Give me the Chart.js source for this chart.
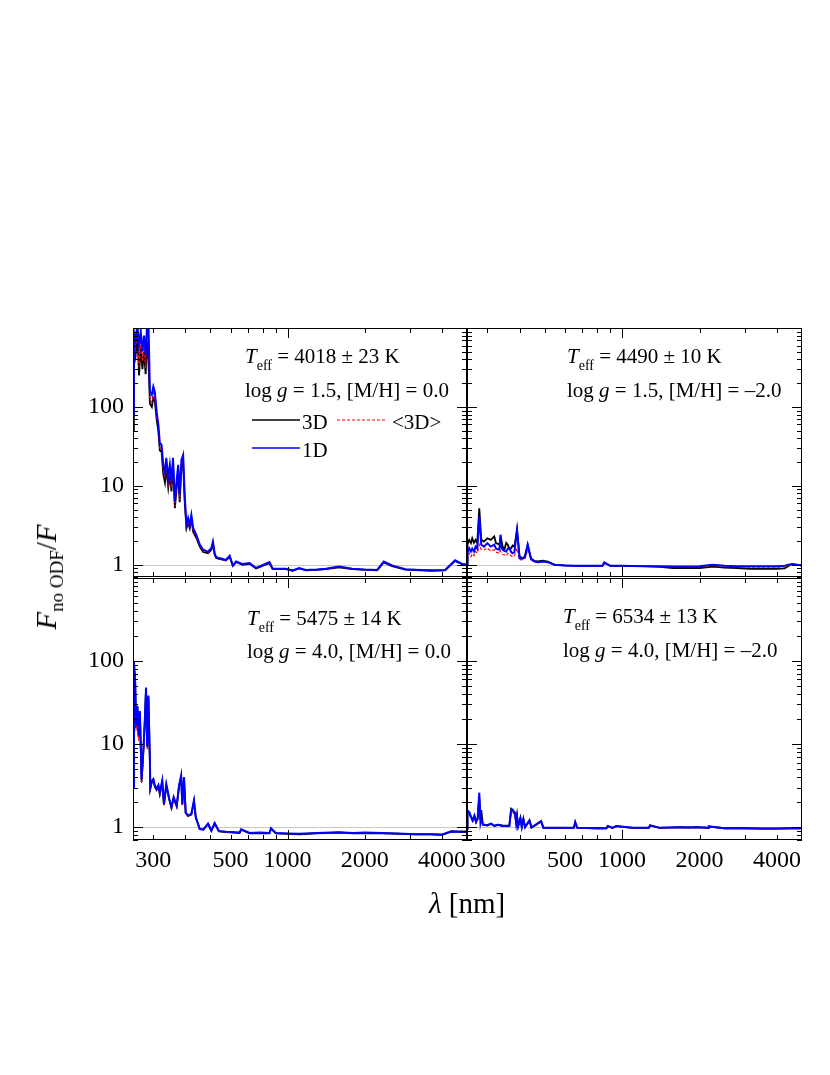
<!DOCTYPE html>
<html>
<head>
<meta charset="utf-8">
<script src="https://cdn.jsdelivr.net/npm/chart.js@4.4.1/dist/chart.umd.min.js"></script>
<style>
  body { margin: 0; background: #fff; }
  #page { position: relative; width: 830px; height: 1075px; overflow: hidden; font-family: 'Liberation Serif', 'DejaVu Serif', serif; }
  canvas { position: absolute; }
  .title { position: absolute; white-space: nowrap; color: #000; line-height: 1; }
  #ytitle { left: 49px; top: 577px; font-size: 29px; transform: translate(-50%, -50%) rotate(-90deg); }
  #ytitle sub { font-size: 19px; font-style: normal; vertical-align: -7px; }
  #xtitle { left: 467px; top: 903px; font-size: 29px; transform: translate(-50%, -50%); }
</style>
</head>
<body>
<div id="page">
  <canvas id="panelTL"></canvas>
  <canvas id="panelTR"></canvas>
  <canvas id="panelBL"></canvas>
  <canvas id="panelBR"></canvas>
  <div class="title" id="ytitle"><i>F</i><sub>no ODF</sub>/<i>F</i></div>
  <div class="title" id="xtitle"><i>λ</i> [nm]</div>
</div>
<script>
// tick labels (the reference prints "500" at the 600 nm tick position)
const xTickAt = [300, 600, 1000, 2000, 4000];
const xTickText = ['300', '500', '1000', '2000', '4000'];
const yTickAt = [1, 10, 100];
const xMajor = [1000];
const xMinor = [300, 400, 500, 600, 700, 800, 900, 2000, 3000, 4000];
const yMajor = [1, 10, 100];
const yMinor = [0.7, 0.8, 0.9, 2, 3, 4, 5, 6, 7, 8, 9, 20, 30, 40, 50, 60, 70, 80, 90,
                200, 300, 400, 500, 600, 700, 800, 900];

// Teff = 4018 K, log g = 1.5, [M/H] = 0.0
const lamA = [250, 252, 256, 260, 264, 268, 272, 276, 280, 284,
  287, 291, 296, 300, 304, 309, 314, 318, 323, 328,
  333, 337, 343, 348, 353, 358, 364, 370, 375, 380,
  386, 392, 398, 404, 410, 416, 422, 429, 441, 455,
  469, 490, 505, 512, 520, 527, 540, 552, 575, 595,
  612, 631, 669, 711, 754, 850, 875, 986, 1046, 1110,
  1178, 1300, 1409, 1586, 1786, 2000, 2233, 2370, 2552, 2877,
  3300, 3648, 4108, 4494, 4800, 5000];
const f3dA = [50, 700, 450, 800, 250, 600, 300, 500, 260, 700,
  400, 110, 100, 130, 120, 70, 48, 28, 27, 14,
  11, 17, 9.5, 14, 8.5, 18, 5.2, 9.5, 14, 6.2,
  17, 19, 5.8, 2.9, 3.4, 2.9, 3.8, 2.6, 2.2, 1.7,
  1.45, 1.4, 1.55, 1.85, 1.35, 1.22, 1.19, 1.17, 1.13, 1.26,
  0.97, 1.08, 1.0, 1.03, 0.9, 1.05, 0.88, 0.88, 0.84, 0.9,
  0.85, 0.86, 0.88, 0.93, 0.88, 0.86, 0.85, 1.07, 0.96, 0.87,
  0.85, 0.84, 0.85, 1.12, 1.01, 1.0];
const fAvgA = [40, 800, 550, 950, 320, 700, 380, 600, 310, 850,
  600, 125, 115, 150, 135, 76, 52, 30, 29, 15.5,
  12.5, 19, 10.5, 15.5, 9.5, 19.5, 5.5, 10.5, 15.5, 6.6,
  18, 20.5, 6.2, 3.0, 3.6, 3.0, 4.0, 2.7, 2.3, 1.75,
  1.5, 1.43, 1.6, 1.9, 1.37, 1.23, 1.2, 1.18, 1.14, 1.28,
  0.97, 1.09, 1.01, 1.04, 0.9, 1.06, 0.88, 0.88, 0.84, 0.9,
  0.85, 0.86, 0.88, 0.94, 0.88, 0.86, 0.85, 1.08, 0.97, 0.87,
  0.85, 0.84, 0.85, 1.13, 1.01, 1.0];
const f1dA = [80, 900, 700, 1100, 600, 900, 500, 800, 450, 1200,
  1300, 155, 142, 181, 156, 87, 59, 35, 33, 18.5,
  14.6, 22.6, 12.6, 18.5, 11.3, 22.6, 6.3, 12, 18.5, 7.7,
  21.3, 24.7, 7.0, 3.2, 3.9, 3.2, 4.3, 2.9, 2.4, 1.8,
  1.55, 1.47, 1.64, 1.96, 1.4, 1.25, 1.22, 1.2, 1.15, 1.3,
  0.98, 1.1, 1.02, 1.05, 0.91, 1.08, 0.89, 0.89, 0.85, 0.91,
  0.86, 0.87, 0.89, 0.95, 0.89, 0.87, 0.86, 1.1, 0.98, 0.88,
  0.86, 0.85, 0.86, 1.14, 1.02, 1.0];

// Teff = 4490 K, log g = 1.5, [M/H] = -2.0
const lamB = [250, 251, 255, 259, 262, 266, 270, 274, 279, 284,
  291, 300, 309, 319, 324, 334, 337, 339, 344, 349,
  355, 360, 365, 371, 376, 382, 391, 400, 412, 420,
  430, 443, 457, 471, 492, 515, 547, 600, 654, 750,
  840, 853, 900, 1000, 1200, 1400, 1575, 1800, 2000, 2254,
  2500, 2800, 3130, 3600, 4000, 4280, 4560, 5000];
const f3dB = [1.0, 1.8, 2.07, 1.88, 2.17, 1.9, 2.07, 1.88, 5.2, 2.07,
  1.97, 2.17, 2.07, 2.28, 1.88, 1.8, 2.0, 2.17, 1.7, 1.55,
  1.9, 1.8, 1.6, 1.62, 1.75, 1.7, 2.77, 1.27, 1.21, 1.3,
  1.8, 1.21, 1.12, 1.1, 1.13, 1.1, 1.0, 0.98, 0.97, 0.97,
  0.97, 1.06, 0.97, 0.96, 0.96, 0.94, 0.91, 0.91, 0.91, 0.95,
  0.92, 0.91, 0.89, 0.89, 0.89, 0.9, 1.02, 0.98];
const fAvgB = [1.0, 1.21, 1.4, 1.27, 1.38, 1.3, 1.47, 1.4, 1.8, 1.55,
  1.55, 1.62, 1.5, 1.55, 1.45, 1.4, 1.5, 1.45, 1.35, 1.34,
  1.3, 1.4, 1.38, 1.3, 1.27, 1.3, 1.62, 1.16, 1.15, 1.2,
  1.55, 1.16, 1.09, 1.07, 1.09, 1.07, 1.0, 0.98, 0.97, 0.97,
  0.97, 1.05, 0.97, 0.96, 0.96, 0.95, 0.94, 0.94, 0.94, 0.98,
  0.95, 0.94, 0.93, 0.93, 0.93, 0.94, 1.01, 0.98];
const f1dB = [1.0, 1.4, 1.62, 1.47, 1.6, 1.47, 1.7, 1.6, 4.1, 1.8,
  1.7, 1.88, 1.7, 1.8, 1.6, 1.55, 2.4, 1.7, 1.55, 1.5,
  1.47, 1.6, 1.62, 1.45, 1.4, 1.45, 2.77, 1.21, 1.2, 1.25,
  1.8, 1.18, 1.1, 1.08, 1.1, 1.08, 1.0, 0.98, 0.97, 0.97,
  0.97, 1.07, 0.97, 0.97, 0.96, 0.96, 0.95, 0.95, 0.96, 1.0,
  0.97, 0.96, 0.96, 0.96, 0.96, 0.97, 1.02, 0.98];

// Teff = 5475 K, log g = 4.0, [M/H] = 0.0
const lamC = [250, 252, 255, 257, 260, 263, 266, 270, 275, 278,
  281, 284, 287, 291, 292, 296, 300, 304, 309, 314,
  318, 325, 330, 337, 346, 353, 360, 370, 378, 385,
  389, 395, 401, 410, 422, 432, 439, 455, 470, 490,
  505, 520, 540, 577, 620, 650, 660, 711, 780, 850,
  862, 900, 1000, 1110, 1300, 1586, 1800, 2000, 2335, 2700,
  3142, 3600, 3986, 4350, 4700, 5000];
const f3dC = [3, 98, 52, 15.5, 28, 12, 24, 3.5, 9.2, 19,
  46, 9.1, 37, 5.8, 2.9, 3.5, 3.7, 3.1, 2.8, 3.1,
  2.5, 3.5, 1.85, 3.2, 2.15, 1.7, 2.25, 1.78, 3.1, 4.0,
  1.85, 3.85, 1.48, 1.36, 1.42, 2.05, 1.3, 0.95, 0.93, 1.09,
  0.9, 1.11, 0.89, 0.87, 0.86, 0.85, 0.93, 0.84, 0.85, 0.84,
  0.96, 0.84, 0.83, 0.82, 0.84, 0.86, 0.84, 0.85, 0.84, 0.83,
  0.82, 0.82, 0.81, 0.88, 0.88, 0.88];
const fAvgC = [3, 95, 50, 14.5, 27, 11, 23, 3.3, 8.8, 18.5,
  44, 8.6, 35, 5.6, 2.8, 3.4, 3.6, 3.0, 2.75, 3.0,
  2.45, 3.4, 1.8, 3.1, 2.1, 1.66, 2.2, 1.75, 3.0, 3.9,
  1.8, 3.7, 1.45, 1.34, 1.4, 2.0, 1.28, 0.94, 0.93, 1.08,
  0.9, 1.1, 0.89, 0.87, 0.87, 0.86, 0.93, 0.85, 0.86, 0.85,
  0.95, 0.85, 0.84, 0.83, 0.85, 0.87, 0.85, 0.86, 0.85, 0.84,
  0.83, 0.83, 0.82, 0.9, 0.89, 0.89];
const f1dC = [3, 100, 55, 16.7, 29, 12.7, 25, 3.8, 9.6, 20,
  48, 9.6, 38.5, 6.1, 3.0, 3.6, 3.8, 3.2, 2.9, 3.2,
  2.6, 3.65, 1.9, 3.3, 2.2, 1.74, 2.3, 1.82, 3.2, 4.2,
  1.9, 4.0, 1.5, 1.38, 1.45, 2.1, 1.32, 0.95, 0.94, 1.1,
  0.91, 1.12, 0.9, 0.88, 0.87, 0.86, 0.94, 0.85, 0.86, 0.85,
  0.97, 0.85, 0.84, 0.83, 0.85, 0.87, 0.85, 0.86, 0.85, 0.84,
  0.82, 0.82, 0.81, 0.89, 0.88, 0.88];

// Teff = 6534 K, log g = 4.0, [M/H] = -2.0
const lamD = [250, 251, 255, 259, 263, 267, 271, 275, 279, 282,
  284, 288, 300, 310, 320, 329, 345, 365, 371, 376,
  384, 388, 391, 395, 403, 408, 414, 420, 437, 445,
  485, 495, 560, 650, 658, 670, 800, 870, 880, 920,
  950, 1097, 1270, 1285, 1400, 1700, 1800, 1950, 2160, 2173,
  2500, 3000, 3500, 4000, 4500, 5000];
const f3dD = [0.95, 1.55, 1.5, 1.34, 1.22, 1.36, 1.17, 1.28, 2.3, 1.2,
  1.6, 1.08, 1.06, 1.1, 1.04, 1.07, 1.04, 1.04, 1.66, 1.58,
  1.5, 1.15, 1.4, 1.03, 1.3, 1.01, 1.26, 1.0, 1.21, 0.99,
  1.17, 0.98, 0.98, 0.98, 1.14, 0.98, 0.97, 0.97, 1.03, 0.98,
  1.03, 0.98, 0.98, 1.05, 0.98, 1.0, 0.99, 1.0, 0.98, 1.02,
  0.97, 0.97, 0.96, 0.96, 0.97, 0.97];
const fAvgD = [0.95, 1.5, 1.45, 1.28, 1.17, 1.32, 1.13, 1.23, 2.2, 1.12,
  1.25, 1.06, 1.04, 1.08, 1.02, 1.06, 1.02, 1.02, 1.5, 1.52,
  1.4, 1.08, 1.28, 1.01, 1.22, 0.99, 1.2, 0.99, 1.17, 0.98,
  1.15, 0.97, 0.97, 0.97, 1.12, 0.97, 0.96, 0.96, 1.02, 0.97,
  1.02, 0.97, 0.97, 1.04, 0.97, 0.99, 0.98, 0.99, 0.97, 1.01,
  0.96, 0.96, 0.95, 0.95, 0.96, 0.96];
const f1dD = [0.95, 1.59, 1.52, 1.32, 1.2, 1.38, 1.15, 1.26, 2.6, 1.15,
  1.3, 1.07, 1.05, 1.1, 1.03, 1.07, 1.03, 1.03, 1.59, 1.63,
  1.45, 1.1, 1.32, 1.02, 1.26, 1.0, 1.24, 1.0, 1.2, 0.99,
  1.18, 0.98, 0.98, 0.98, 1.15, 0.98, 0.97, 0.97, 1.03, 0.98,
  1.03, 0.98, 0.98, 1.05, 0.98, 1.0, 0.99, 1.0, 0.98, 1.02,
  0.97, 0.97, 0.96, 0.96, 0.97, 0.97];

const SERIF = "'Liberation Serif', 'DejaVu Serif', serif";
const BLACK = '#000000';
const RED = '#ff0000';
const BLUE = '#0000ff';

function pts(lam, f) {
  return lam.map((l, i) => ({ x: l, y: f[i] }));
}

// draw a line of text made of parts (plain, italic, subscript)
function drawRich(ctx, x, y, parts) {
  ctx.textBaseline = 'alphabetic';
  ctx.textAlign = 'left';
  ctx.fillStyle = '#000';
  parts.forEach(p => {
    if (p.sub) ctx.font = '14px ' + SERIF;
    else if (p.it) ctx.font = 'italic 21px ' + SERIF;
    else ctx.font = '21px ' + SERIF;
    ctx.fillText(p.t, x, p.sub ? y + 7 : y);
    x += ctx.measureText(p.t).width;
  });
}

function makeDecor(cfg) {
  return {
    id: 'panelDecor',
    beforeDatasetsDraw(chart) {
      const { ctx, chartArea: a, scales: { y } } = chart;
      const py = Math.round(y.getPixelForValue(1)) + 0.5;
      ctx.save();
      ctx.strokeStyle = '#c8c8c8';
      ctx.lineWidth = 1;
      ctx.beginPath();
      ctx.moveTo(a.left, py);
      ctx.lineTo(a.right, py);
      ctx.stroke();
      ctx.restore();
    },
    afterDraw(chart) {
      const { ctx, chartArea: a, scales: { x, y } } = chart;
      ctx.save();
      ctx.strokeStyle = '#000';
      ctx.lineWidth = 1;
      ctx.strokeRect(a.left + 0.5, a.top + 0.5, a.right - a.left - 1, a.bottom - a.top - 1);

      // inward ticks on all four sides
      ctx.beginPath();
      xMajor.concat(xMinor).forEach(v => {
        const len = xMajor.includes(v) ? 10 : 5;
        const px = Math.round(x.getPixelForValue(v)) + 0.5;
        ctx.moveTo(px, a.top); ctx.lineTo(px, a.top + len);
        ctx.moveTo(px, a.bottom); ctx.lineTo(px, a.bottom - len);
      });
      yMajor.concat(yMinor).forEach(v => {
        const len = yMajor.includes(v) ? 10 : 5;
        const py = Math.round(y.getPixelForValue(v)) + 0.5;
        ctx.moveTo(a.left, py); ctx.lineTo(a.left + len, py);
        ctx.moveTo(a.right, py); ctx.lineTo(a.right - len, py);
      });
      ctx.stroke();

      cfg.text.forEach(line => drawRich(ctx, a.left + line.dx, a.top + line.dy, line.parts));

      if (cfg.legend) {
        const lx = a.left + 119, ly = a.top + 92;
        ctx.lineWidth = 1.5;
        ctx.strokeStyle = BLACK;
        ctx.beginPath(); ctx.moveTo(lx, ly); ctx.lineTo(lx + 48, ly); ctx.stroke();
        ctx.strokeStyle = BLUE;
        ctx.beginPath(); ctx.moveTo(lx, ly + 28); ctx.lineTo(lx + 48, ly + 28); ctx.stroke();
        ctx.strokeStyle = RED;
        ctx.lineWidth = 1.2;
        ctx.setLineDash([3, 2]);
        ctx.beginPath(); ctx.moveTo(lx + 85, ly); ctx.lineTo(lx + 135, ly); ctx.stroke();
        ctx.setLineDash([]);
        drawRich(ctx, lx + 50, ly + 9, [{ t: '3D' }]);
        drawRich(ctx, lx + 140, ly + 9, [{ t: '<3D>' }]);
        drawRich(ctx, lx + 50, ly + 37, [{ t: '1D' }]);
      }
      ctx.restore();
    }
  };
}

function makePanel(id, area, sets, cfg) {
  const canvas = document.getElementById(id);
  canvas.width = area.r - area.l + 92;
  canvas.height = area.b - area.t + 90;

  const chart = new Chart(canvas, {
    type: 'line',
    data: {
      datasets: [
        { label: '1D', data: pts(sets.lam, sets.f1d), borderColor: BLUE, borderWidth: 2, order: 1 },
        { label: '<3D>', data: pts(sets.lam, sets.avg), borderColor: RED, borderWidth: 1.2, borderDash: [3, 2], order: 2 },
        { label: '3D', data: pts(sets.lam, sets.f3d), borderColor: BLACK, borderWidth: 1.8, order: 3 }
      ]
    },
    options: {
      responsive: false,
      maintainAspectRatio: false,
      animation: false,
      devicePixelRatio: 1,
      layout: { padding: { left: 0, top: 30, right: 12, bottom: 0 } },
      elements: { point: { radius: 0 }, line: { tension: 0 } },
      plugins: { legend: { display: false }, tooltip: { enabled: false } },
      scales: {
        x: {
          type: 'logarithmic',
          min: 250,
          max: 5000,
          grid: { display: false, drawTicks: false },
          border: { display: false },
          afterBuildTicks: s => { s.ticks = xTickAt.map(v => ({ value: v })); },
          afterFit: s => { s.height = 50; },
          ticks: {
            display: cfg.xLabels,
            autoSkip: false,
            maxRotation: 0,
            padding: 6,
            color: '#000',
            font: { family: SERIF, size: 24 },
            callback: (v, i) => xTickText[i]
          }
        },
        y: {
          type: 'logarithmic',
          min: 0.7,
          max: 1000,
          grid: { display: false, drawTicks: false },
          border: { display: false },
          afterBuildTicks: s => { s.ticks = yTickAt.map(v => ({ value: v })); },
          afterFit: s => { s.width = 80; },
          ticks: {
            display: cfg.yLabels,
            autoSkip: false,
            padding: 9,
            color: '#000',
            font: { family: SERIF, size: 24 },
            callback: v => String(v)
          }
        }
      }
    },
    plugins: [makeDecor(cfg)]
  });

  // fit the canvas so the plot area lands exactly on the panel box
  for (let k = 0; k < 3; k++) {
    const ca = chart.chartArea;
    const dw = (area.r - area.l) - (ca.right - ca.left);
    const dh = (area.b - area.t) - (ca.bottom - ca.top);
    if (Math.abs(dw) < 0.5 && Math.abs(dh) < 0.5) break;
    chart.resize(Math.round(chart.width + dw), Math.round(chart.height + dh));
  }
  canvas.style.left = (area.l - chart.chartArea.left) + 'px';
  canvas.style.top = (area.t - chart.chartArea.top) + 'px';
}

makePanel('panelTL', { l: 133, t: 328, r: 467, b: 577 },
  { lam: lamA, f3d: f3dA, avg: fAvgA, f1d: f1dA },
  { xLabels: false, yLabels: true, legend: true, text: [
    { dx: 112, dy: 35, parts: [{ t: 'T', it: true }, { t: 'eff', sub: true }, { t: ' = 4018 ± 23 K' }] },
    { dx: 112, dy: 69, parts: [{ t: 'log ' }, { t: 'g', it: true }, { t: ' = 1.5, [M/H] = 0.0' }] }
  ] });

makePanel('panelTR', { l: 467, t: 328, r: 802, b: 577 },
  { lam: lamB, f3d: f3dB, avg: fAvgB, f1d: f1dB },
  { xLabels: false, yLabels: false, legend: false, text: [
    { dx: 100, dy: 35, parts: [{ t: 'T', it: true }, { t: 'eff', sub: true }, { t: ' = 4490 ± 10 K' }] },
    { dx: 100, dy: 69, parts: [{ t: 'log ' }, { t: 'g', it: true }, { t: ' = 1.5, [M/H] = –2.0' }] }
  ] });

makePanel('panelBL', { l: 133, t: 578, r: 467, b: 840 },
  { lam: lamC, f3d: f3dC, avg: fAvgC, f1d: f1dC },
  { xLabels: true, yLabels: true, legend: false, text: [
    { dx: 114, dy: 47, parts: [{ t: 'T', it: true }, { t: 'eff', sub: true }, { t: ' = 5475 ± 14 K' }] },
    { dx: 114, dy: 80, parts: [{ t: 'log ' }, { t: 'g', it: true }, { t: ' = 4.0, [M/H] = 0.0' }] }
  ] });

makePanel('panelBR', { l: 467, t: 578, r: 802, b: 840 },
  { lam: lamD, f3d: f3dD, avg: fAvgD, f1d: f1dD },
  { xLabels: true, yLabels: false, legend: false, text: [
    { dx: 96, dy: 45, parts: [{ t: 'T', it: true }, { t: 'eff', sub: true }, { t: ' = 6534 ± 13 K' }] },
    { dx: 96, dy: 79, parts: [{ t: 'log ' }, { t: 'g', it: true }, { t: ' = 4.0, [M/H] = –2.0' }] }
  ] });
</script>
</body>
</html>
